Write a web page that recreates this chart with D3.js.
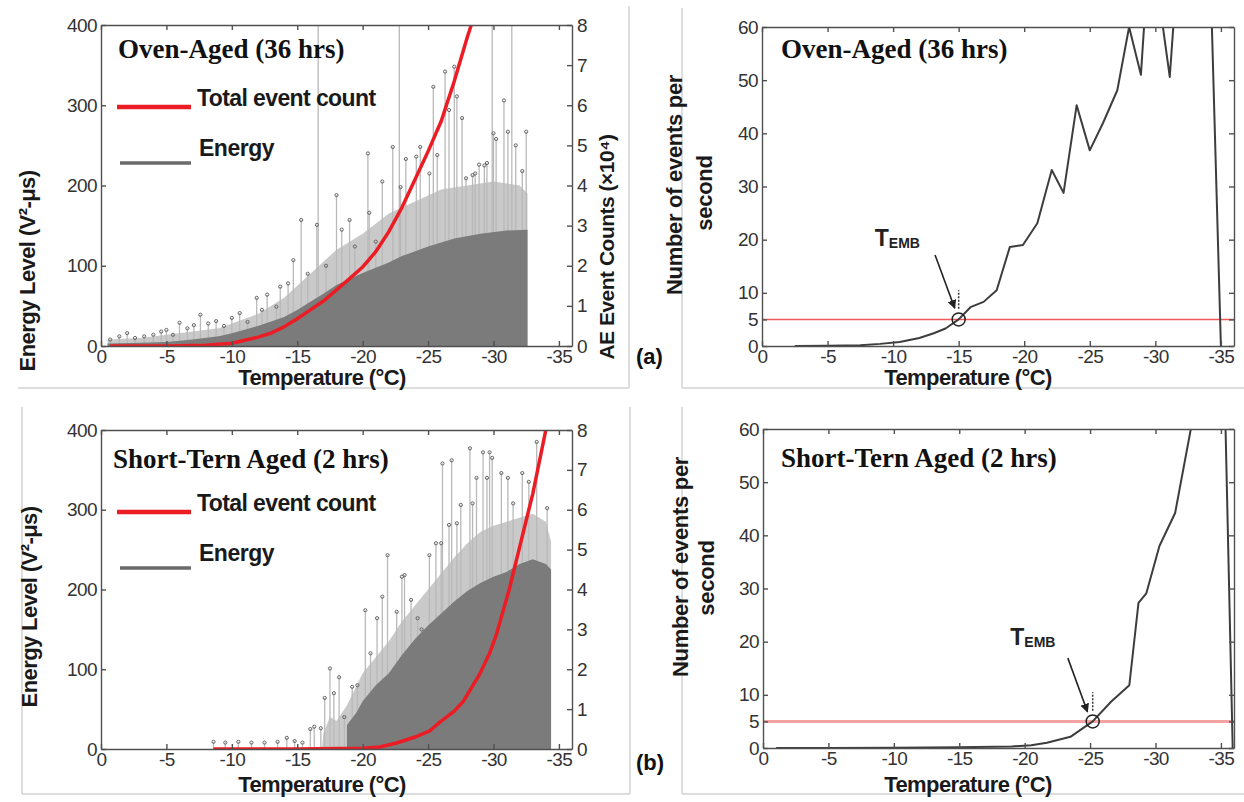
<!DOCTYPE html>
<html>
<head>
<meta charset="utf-8">
<script src="https://cdn.jsdelivr.net/npm/d3@7"></script>
<style>
    body { margin: 0; background: #fff; }
    svg { display: block; }
    .axis path, .axis line { stroke: #505050; stroke-width: 1.4; }
    .axis text { font-family: "Liberation Sans", Arial, sans-serif; font-size: 19px; fill: #333; letter-spacing: -0.6px; }
</style>
</head>
<body>
<svg id="canvas" width="1244" height="802"></svg>
<script>
// Shared axes.
const TEMP_DOMAIN = [0, -36];
const TEMP_TICKS = [0, -5, -10, -15, -20, -25, -30, -35];
const ENERGY_TICKS = [0, 100, 200, 300, 400];
const COUNT_TICKS = [0, 1, 2, 3, 4, 5, 6, 7, 8];
const RATE_TICKS = [0, 5, 10, 20, 30, 40, 50, 60];
const RATE_THRESHOLD = 5;

// Oven-aged (36 hrs). Pairs are [temperature (°C), value].
const ovenCount = [[-0.7, 0], [-5, 0], [-8, 0.02], [-10, 0.07], [-12, 0.22], [-13, 0.32], [-14, 0.48],
    [-15, 0.68], [-16, 0.9], [-17, 1.12], [-18, 1.4], [-19, 1.68], [-20, 1.97], [-21, 2.35], [-22, 2.85],
    [-23, 3.45], [-24, 4.15], [-25, 4.85], [-26, 5.6], [-27, 6.6], [-28, 7.7], [-28.3, 8.0]];
const ovenEnergyDense = [[-0.5, 3], [-3, 4], [-5, 5], [-7, 8], [-9, 12], [-10, 16], [-12, 25], [-14, 36],
    [-15, 45], [-16, 55], [-17, 65], [-18, 76], [-20, 91], [-22, 104], [-23, 112], [-25, 124], [-27, 134],
    [-29, 140], [-31, 144], [-32.6, 145]];
const ovenEnergyLight = [[-0.5, 8], [-3, 10], [-5, 14], [-7, 18], [-9, 22], [-10, 28], [-12, 40], [-14, 60],
    [-15, 75], [-16, 90], [-17, 105], [-18, 120], [-20, 140], [-22, 165], [-24, 180], [-26, 195], [-28, 200],
    [-30, 205], [-32, 200], [-32.6, 190]];
const ovenEnergySpikes = [[-0.7, 8], [-1.4, 12], [-2.0, 16], [-2.6, 10], [-3.3, 12], [-4.0, 14], [-4.6, 18],
    [-5.0, 20], [-5.5, 14], [-6.0, 29], [-6.6, 22], [-7.1, 26], [-7.6, 39], [-8.2, 28], [-8.8, 31], [-9.4, 25],
    [-10.0, 35], [-10.6, 41], [-11.2, 30], [-11.9, 60], [-12.3, 45], [-12.7, 64], [-13.4, 49], [-13.7, 74],
    [-14.3, 78], [-14.7, 107], [-15.3, 157], [-15.8, 90], [-16.5, 151], [-16.6, 420], [-17.2, 100], [-18.0, 188],
    [-18.4, 145], [-19.0, 157], [-19.4, 124], [-20.4, 240], [-20.5, 166], [-21.0, 130], [-21.5, 205],
    [-22.3, 248], [-22.8, 420], [-22.9, 198], [-23.3, 233], [-24.1, 236], [-24.4, 248], [-25.1, 215],
    [-25.4, 323], [-25.7, 238], [-26.3, 342], [-26.6, 294], [-27.0, 348], [-27.2, 311], [-27.6, 284],
    [-27.9, 209], [-28.4, 213], [-28.6, 215], [-28.9, 226], [-29.3, 225], [-29.5, 228], [-29.9, 420],
    [-30.0, 265], [-30.2, 258], [-30.8, 306], [-31.1, 267], [-31.4, 420], [-31.7, 250], [-32.2, 218],
    [-32.5, 267]];
const ovenRate = [[-2.5, 0], [-5, 0.05], [-7.5, 0.15], [-9, 0.4], [-10.5, 0.75], [-12, 1.5], [-13.1, 2.4],
    [-14, 3.3], [-15, 5.0], [-15.9, 7.3], [-16.9, 8.3], [-17.9, 10.5], [-18.9, 18.6], [-19.9, 19.0],
    [-21, 23.1], [-22.1, 33.1], [-23, 28.8], [-24, 45.3], [-25, 36.8], [-26, 41.9], [-27.1, 48.1], [-28, 60],
    [-28.9, 51], [-29.8, 85], [-30.3, 65], [-31.1, 50.6], [-31.8, 75], [-33, 110], [-34.2, 70], [-35, 0]];
const ovenTemb = -15;

// Short-term aged (2 hrs).
const shortCount = [[-8.6, 0], [-15, 0], [-20, 0.02], [-21.3, 0.05], [-22.6, 0.15], [-24, 0.3], [-25.1, 0.45],
    [-26, 0.7], [-27, 0.95], [-27.7, 1.2], [-28.9, 1.85], [-29.7, 2.4], [-30.2, 2.85], [-31.2, 4.0],
    [-32.1, 5.2], [-33, 6.4], [-34, 8.0]];
const shortEnergyDense = [[-18.8, 30], [-19.5, 45], [-20, 60], [-21, 80], [-22, 95], [-23, 118], [-24, 138],
    [-25, 155], [-26, 170], [-27, 185], [-28, 198], [-29, 208], [-30, 216], [-31, 222], [-32, 232], [-33, 238],
    [-34, 232], [-34.4, 225]];
const shortEnergyLight = [[-16.9, 4], [-17, 20], [-17.5, 40], [-18, 35], [-18.8, 55], [-20, 95], [-21, 115],
    [-22, 135], [-23, 160], [-24, 180], [-25, 200], [-26, 220], [-27, 240], [-28, 258], [-29, 272], [-30, 280],
    [-31, 285], [-32, 290], [-33, 295], [-34, 285], [-34.4, 260]];
const shortEnergySpikes = [[-8.6, 9], [-9.5, 8], [-10.5, 9], [-11.5, 8], [-12.5, 8], [-13.5, 9], [-14.2, 14],
    [-14.8, 10], [-15.4, 8], [-16.0, 25], [-16.3, 28], [-16.8, 26], [-17.1, 64], [-17.5, 101], [-17.8, 70],
    [-18.2, 90], [-18.6, 40], [-19.2, 78], [-19.6, 80], [-20.2, 174], [-20.6, 120], [-21.1, 164], [-21.5, 191],
    [-21.9, 243], [-22.6, 172], [-23.0, 216], [-23.2, 218], [-23.7, 187], [-24.2, 164], [-24.5, 150],
    [-25.1, 243], [-25.6, 258], [-26.0, 258], [-26.1, 358], [-26.6, 281], [-26.8, 362], [-27.2, 283],
    [-27.5, 306], [-28.2, 377], [-28.4, 308], [-28.7, 340], [-29.2, 372], [-29.5, 340], [-29.7, 372],
    [-29.9, 365], [-30.6, 346], [-31.1, 340], [-31.5, 308], [-32.2, 346], [-32.7, 335], [-33.3, 385],
    [-34.1, 302]];
const shortRate = [[-1, 0], [-5, 0], [-10, 0.05], [-15, 0.15], [-19, 0.3], [-20.5, 0.5], [-21.7, 1.0],
    [-23.5, 2.1], [-25.2, 5.0], [-26.6, 8.7], [-28, 11.8], [-28.7, 27.3], [-29.3, 29.1], [-30.3, 38],
    [-31.5, 44.2], [-32.7, 60], [-33.5, 100], [-35.3, 66], [-35.9, 0]];
const shortTemb = -25.2;

(function () {

    // Fonts and colours.
    const SANS = "'Liberation Sans', Arial, sans-serif";
    const SERIF = "'Liberation Serif', 'Times New Roman', serif";
    const DENSE_COLOR = "#7b7b7b";
    const LIGHT_COLOR = "#c9c9c9";
    const STEM_COLOR = "#b9b9b9";
    const COUNT_COLOR = "#ec1c24";
    const RATE_COLOR = "#3d3d3d";
    const FRAME_COLOR = "#d2d2d2";

    let svg = d3.select("#canvas");
    let defs = svg.append("defs");
    defs.append("marker")
        .attr("id", "arrow")
        .attr("viewBox", "0 0 10 10")
        .attr("refX", 9).attr("refY", 5)
        .attr("markerWidth", 9).attr("markerHeight", 9)
        .attr("markerUnits", "userSpaceOnUse")
        .attr("orient", "auto")
        .append("path")
        .attr("d", "M0,0 L10,5 L0,10 z")
        .attr("fill", "#222");

    // Faint frames left over from the composed figure.
    let frames = [
        [18, 388, 629, 388], [629, 6, 629, 388],
        [22, 407, 22, 794], [22, 794, 630, 794], [630, 407, 630, 794],
        [682, 8, 682, 388], [682, 388, 1244, 388],
        [682, 407, 682, 794], [682, 794, 1244, 794]
    ];
    svg.selectAll("line.frame").data(frames).join("line")
        .attr("class", "frame")
        .attr("x1", d => d[0]).attr("y1", d => d[1])
        .attr("x2", d => d[2]).attr("y2", d => d[3])
        .attr("stroke", FRAME_COLOR).attr("stroke-width", 1.5);


    /**
     * Box axes in the MATLAB style: inward ticks on all four sides.
     */
    function addAxes(g, box, x, yLeft, leftTicks, yRight, rightTicks, rightLabels) {
        g.append("g").attr("class", "axis")
            .attr("transform", `translate(0, ${box.bottom})`)
            .call(d3.axisBottom(x).tickValues(TEMP_TICKS).tickSizeInner(-5).tickSizeOuter(0)
                .tickPadding(3).tickFormat(d => String(d)));
        g.append("g").attr("class", "axis")
            .attr("transform", `translate(0, ${box.top})`)
            .call(d3.axisTop(x).tickValues(TEMP_TICKS).tickSizeInner(-5).tickSizeOuter(0).tickFormat(""));
        g.append("g").attr("class", "axis")
            .attr("transform", `translate(${box.left}, 0)`)
            .call(d3.axisLeft(yLeft).tickValues(leftTicks).tickSizeInner(-5).tickSizeOuter(0)
                .tickPadding(4).tickFormat(d => String(d)));
        g.append("g").attr("class", "axis")
            .attr("transform", `translate(${box.right}, 0)`)
            .call(d3.axisRight(yRight).tickValues(rightTicks).tickSizeInner(-5).tickSizeOuter(0)
                .tickPadding(5).tickFormat(rightLabels ? (d => String(d)) : ""));
    }

    function addClip(id, box) {
        defs.append("clipPath").attr("id", id).append("rect")
            .attr("x", box.left).attr("y", box.top)
            .attr("width", box.right - box.left).attr("height", box.bottom - box.top);
    }

    function addText(g, txt, x, y, size, opts) {
        opts = opts || {};
        let t = g.append("text")
            .attr("x", x).attr("y", y)
            .attr("font-family", opts.family || SANS)
            .attr("font-size", size)
            .attr("font-weight", "bold")
            .attr("fill", opts.fill || "#1a1a1a")
            .attr("text-anchor", opts.anchor || "start")
            .attr("letter-spacing", opts.spacing || 0)
            .text(txt);
        if (opts.rotate) {
            t.attr("transform", `rotate(-90, ${x}, ${y})`);
        }
        return t;
    }


    /**
     * Left column: energy stems with the cumulative event count on the right axis.
     */
    function drawEnergyPanel(cfg) {
        let box = cfg.box;
        let g = svg.append("g");
        let x = d3.scaleLinear().domain(TEMP_DOMAIN).range([box.left, box.right]);
        let y = d3.scaleLinear().domain([0, 400]).range([box.bottom, box.top]);
        let yc = d3.scaleLinear().domain([0, 8]).range([box.bottom, box.top]);

        addClip(cfg.id, box);
        let plot = g.append("g").attr("clip-path", `url(#${cfg.id})`);

        let area = d3.area().x(d => x(d[0])).y0(y(0)).y1(d => y(d[1]));
        plot.append("path").datum(cfg.light).attr("fill", LIGHT_COLOR).attr("d", area);
        plot.selectAll("line.stem").data(cfg.spikes).join("line")
            .attr("class", "stem")
            .attr("x1", d => x(d[0])).attr("x2", d => x(d[0]))
            .attr("y1", y(0)).attr("y2", d => y(d[1]))
            .attr("stroke", STEM_COLOR).attr("stroke-width", 1.3);
        plot.append("path").datum(cfg.dense).attr("fill", DENSE_COLOR).attr("d", area);
        plot.selectAll("circle.tip").data(cfg.spikes.filter(d => d[1] < 400)).join("circle")
            .attr("class", "tip")
            .attr("cx", d => x(d[0])).attr("cy", d => y(d[1]))
            .attr("r", 1.6)
            .attr("fill", "none").attr("stroke", "#666").attr("stroke-width", 1);

        plot.append("path").datum(cfg.count)
            .attr("fill", "none")
            .attr("stroke", COUNT_COLOR)
            .attr("stroke-width", 3.5)
            .attr("d", d3.line().x(d => x(d[0])).y(d => yc(d[1])));

        addAxes(g, box, x, y, ENERGY_TICKS, yc, COUNT_TICKS, true);

        // Title and legend.
        addText(g, cfg.title, cfg.titleX, cfg.titleY, 27, { family: SERIF, fill: "#111" });
        g.append("line")
            .attr("x1", box.left + 16).attr("x2", box.left + 90)
            .attr("y1", box.top + 82).attr("y2", box.top + 82)
            .attr("stroke", COUNT_COLOR).attr("stroke-width", 4.5);
        addText(g, "Total event count", box.left + 96, box.top + 81, 23, { spacing: -0.6 });
        g.append("line")
            .attr("x1", box.left + 19).attr("x2", box.left + 90)
            .attr("y1", box.top + 138).attr("y2", box.top + 138)
            .attr("stroke", "#6a6a6a").attr("stroke-width", 3.5);
        addText(g, "Energy", box.left + 98, box.top + 131, 23, { spacing: -0.5 });

        // Axis titles.
        addText(g, "Energy Level (V²-μs)", cfg.yTitleX, cfg.yTitleY, 22,
            { anchor: "middle", rotate: true, spacing: -0.6 });
        addText(g, "Temperature (°C)", cfg.xTitleX, cfg.xTitleY, 22, { anchor: "middle", spacing: -0.6 });
        if (cfg.rightTitle) {
            addText(g, "AE Event Counts (×10⁴)", cfg.rightTitleX, cfg.rightTitleY, 21,
                { anchor: "middle", rotate: true, spacing: -0.5 });
        }
    }


    /**
     * Right column: events per second with the T_EMB threshold crossing.
     */
    function drawRatePanel(cfg) {
        let box = cfg.box;
        let g = svg.append("g");
        let x = d3.scaleLinear().domain(TEMP_DOMAIN).range([box.left, box.right]);
        let y = d3.scaleLinear().domain([0, 60]).range([box.bottom, box.top]);

        addClip(cfg.id, box);
        let plot = g.append("g").attr("clip-path", `url(#${cfg.id})`);

        plot.append("line")
            .attr("x1", box.left).attr("x2", box.right)
            .attr("y1", y(RATE_THRESHOLD)).attr("y2", y(RATE_THRESHOLD))
            .attr("stroke", cfg.thresholdColor).attr("stroke-width", cfg.thresholdWidth);
        plot.append("path").datum(cfg.rate)
            .attr("fill", "none")
            .attr("stroke", RATE_COLOR)
            .attr("stroke-width", 2)
            .attr("stroke-linejoin", "round")
            .attr("d", d3.line().x(d => x(d[0])).y(d => y(d[1])));

        addAxes(g, box, x, y, RATE_TICKS, y, RATE_TICKS, false);

        // T_EMB marker.
        g.append("circle")
            .attr("cx", x(cfg.temb)).attr("cy", y(RATE_THRESHOLD)).attr("r", 6.5)
            .attr("fill", "none").attr("stroke", "#222").attr("stroke-width", 1.5);
        g.append("line")
            .attr("x1", x(cfg.temb)).attr("x2", x(cfg.temb))
            .attr("y1", y(RATE_THRESHOLD + 2)).attr("y2", y(RATE_THRESHOLD + 5.5))
            .attr("stroke", "#333").attr("stroke-width", 1.5).attr("stroke-dasharray", "2,1.5");
        g.append("line")
            .attr("x1", x(cfg.arrowFrom[0])).attr("y1", y(cfg.arrowFrom[1]))
            .attr("x2", x(cfg.arrowTo[0])).attr("y2", y(cfg.arrowTo[1]))
            .attr("stroke", "#222").attr("stroke-width", 1.6)
            .attr("marker-end", "url(#arrow)");
        let label = addText(g, "T", x(cfg.label[0]), y(cfg.label[1]), 23, { fill: "#222" });
        label.append("tspan").attr("font-size", 14).attr("dy", 2).text("EMB");

        addText(g, cfg.title, cfg.titleX, cfg.titleY, 27, { family: SERIF, fill: "#111" });
        addText(g, "Number of events per", cfg.yTitleX, cfg.yTitleY, 22, { anchor: "middle", rotate: true, spacing: -0.3 });
        addText(g, "second", cfg.yTitle2X, cfg.yTitle2Y, 22, { anchor: "middle", rotate: true, spacing: -0.3 });
        addText(g, "Temperature (°C)", cfg.xTitleX, cfg.xTitleY, 22, { anchor: "middle", spacing: -0.6 });
    }


    drawEnergyPanel({
        id: "clip-a1", box: { left: 101, right: 572, top: 25, bottom: 346 },
        count: ovenCount, dense: ovenEnergyDense, light: ovenEnergyLight, spikes: ovenEnergySpikes,
        title: "Oven-Aged (36 hrs)", titleX: 118, titleY: 58,
        yTitleX: 35, yTitleY: 271, xTitleX: 322, xTitleY: 385,
        rightTitle: true, rightTitleX: 614, rightTitleY: 247
    });
    drawEnergyPanel({
        id: "clip-b1", box: { left: 101, right: 572, top: 430, bottom: 749 },
        count: shortCount, dense: shortEnergyDense, light: shortEnergyLight, spikes: shortEnergySpikes,
        title: "Short-Tern Aged (2 hrs)", titleX: 113, titleY: 468,
        yTitleX: 37, yTitleY: 607, xTitleX: 322, xTitleY: 792,
        rightTitle: false
    });
    drawRatePanel({
        id: "clip-a2", box: { left: 762, right: 1234, top: 27, bottom: 346 },
        rate: ovenRate, temb: ovenTemb,
        thresholdColor: "#ef5a5a", thresholdWidth: 1.5,
        label: [-8.6, 18.8], arrowFrom: [-13.2, 17.1], arrowTo: [-14.7, 7.1],
        title: "Oven-Aged (36 hrs)", titleX: 781, titleY: 58,
        yTitleX: 682, yTitleY: 185, yTitle2X: 712, yTitle2Y: 193,
        xTitleX: 968, xTitleY: 385
    });
    drawRatePanel({
        id: "clip-b2", box: { left: 763, right: 1234, top: 429, bottom: 748 },
        rate: shortRate, temb: shortTemb,
        thresholdColor: "#f4a3a3", thresholdWidth: 3,
        label: [-18.9, 19.4], arrowFrom: [-23.3, 16.9], arrowTo: [-24.8, 6.8],
        title: "Short-Tern Aged (2 hrs)", titleX: 781, titleY: 467,
        yTitleX: 688, yTitleY: 567, yTitle2X: 714, yTitle2Y: 578,
        xTitleX: 968, xTitleY: 792
    });

    // Sub-figure labels.
    addText(svg, "(a)", 636, 364, 22, { fill: "#111" });
    addText(svg, "(b)", 636, 770, 22, { fill: "#111" });

})();
</script>
</body>
</html>
